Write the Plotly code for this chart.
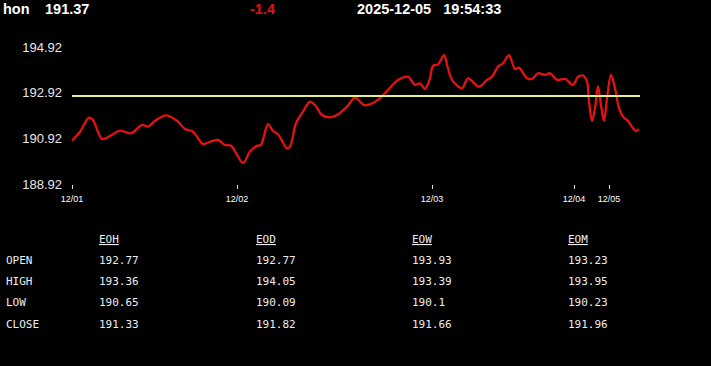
import plotly.graph_objects as go

# ---- data ----
symbol = "hon"
last_price = "191.37"
change = "-1.4"
timestamp = "2025-12-05   19:54:33"

# sample index (time position) and price
t_index = [0, 8, 17, 21, 30, 38, 48, 59, 70, 76, 83, 94, 105, 113, 121, 131, 138, 146,
           153, 159, 171, 178, 185, 189, 192, 196, 201, 206, 215, 218, 224, 231, 238, 243,
           250, 258, 265, 275, 283, 292, 298, 308, 316, 326, 336, 343, 348, 353, 358, 361,
           366, 372, 376, 380, 390, 396, 407, 415, 420, 426, 431, 437, 443, 447, 455, 460,
           466, 473, 478, 485, 493, 501, 506, 511, 515, 517, 520, 523, 526, 529, 532, 535,
           539, 543, 547, 551, 556, 561, 564, 567]
price = [190.82, 191.21, 191.83, 191.72, 190.89, 191.02, 191.26, 191.14, 191.51, 191.43,
         191.69, 191.93, 191.69, 191.33, 191.21, 190.67, 190.77, 190.85, 190.63, 190.60,
         189.84, 190.34, 190.59, 190.63, 191.02, 191.54, 191.24, 191.10, 190.48, 190.55,
         191.58, 192.09, 192.53, 192.38, 191.94, 191.84, 191.94, 192.31, 192.70, 192.38,
         192.41, 192.67, 193.04, 193.48, 193.62, 193.26, 193.33, 193.08, 193.55, 194.10,
         194.16, 194.56, 193.99, 193.48, 193.11, 193.55, 193.18, 193.48, 193.62, 194.06,
         194.21, 194.56, 193.96, 194.02, 193.55, 193.52, 193.77, 193.70, 193.77, 193.48,
         193.52, 193.26, 193.62, 193.67, 193.40, 192.53, 191.68, 192.24, 193.21, 192.38,
         191.68, 192.67, 193.70, 193.11, 192.24, 191.87, 191.68, 191.36, 191.24, 191.32]
ref_price = 192.77
x_end = 568

tick_pos = [0, 165, 360, 502, 537]
tick_labels = ["12/01", "12/02", "12/03", "12/04", "12/05"]
y_ticks = [188.92, 190.92, 192.92, 194.92]

col_headers = ["EOH", "EOD", "EOW", "EOM"]
row_labels = ["OPEN", "HIGH", "LOW", "CLOSE"]
table_vals = [
    ["192.77", "192.77", "193.93", "193.23"],
    ["193.36", "194.05", "193.39", "193.95"],
    ["190.65", "190.09", "190.1", "190.23"],
    ["191.33", "191.82", "191.66", "191.96"],
]

# ---- layout geometry (pixels) ----
W, H = 711, 366
L, R, T, B = 72, 71, 40, 182
pw, ph = W - L - R, H - T - B
y_bottom = 188.92
y_top = y_bottom + ph / 22.83


def px(x):
    return (x - L) / pw


def py(y):
    return (H - B - y) / ph


fig = go.Figure()
fig.add_trace(go.Scatter(x=t_index, y=price, mode="lines",
                         line=dict(color="#e41212", width=2.3, shape="spline", smoothing=0.9),
                         hoverinfo="skip"))
fig.add_trace(go.Scatter(x=[0, x_end], y=[ref_price, ref_price], mode="lines",
                         line=dict(color="#e4ee8c", width=2), hoverinfo="skip"))

ann = []
hfont = dict(family="Liberation Sans, Arial", size=14.5, color="white")
ann.append(dict(text="<b>" + symbol + "</b>", x=px(1), y=py(9.5), font=hfont))
ann.append(dict(text="<b>" + last_price + "</b>", x=px(43), y=py(9.5), font=hfont))
ann.append(dict(text="<b>" + change + "</b>", x=px(248), y=py(9.5),
                font=dict(family="Liberation Sans, Arial", size=14.5, color="#e41212")))
ann.append(dict(text="<b>" + timestamp.replace(" ", "&nbsp;") + "</b>", x=px(355), y=py(9.5), font=hfont))

tfont = dict(family="DejaVu Sans Mono, monospace", size=11, color="#eeeeee")
col_x = [97, 254, 410, 566]
row_y = [260.5, 281, 302.5, 324.5]
for cx, h in zip(col_x, col_headers):
    ann.append(dict(text="<u>" + h + "</u>", x=px(cx), y=py(239), font=tfont))
for ry, lab, vals in zip(row_y, row_labels, table_vals):
    ann.append(dict(text=lab, x=px(4), y=py(ry), font=tfont))
    for cx, v in zip(col_x, vals):
        ann.append(dict(text=v, x=px(cx), y=py(ry), font=tfont))

for a in ann:
    a.update(xref="paper", yref="paper", xanchor="left", yanchor="middle", showarrow=False)

fig.update_layout(
    width=W, height=H,
    margin=dict(l=L, r=R, t=T, b=B, pad=0),
    paper_bgcolor="black", plot_bgcolor="black",
    showlegend=False,
    annotations=ann,
    xaxis=dict(range=[0, x_end], tickvals=tick_pos, ticktext=tick_labels,
               showgrid=False, zeroline=False, showline=False,
               ticks="outside", ticklen=4, tickcolor="#dddddd", tickwidth=1,
               tickfont=dict(family="Liberation Sans, Arial", size=9, color="white"),
               ticklabelstandoff=2, fixedrange=True),
    yaxis=dict(range=[y_bottom, y_top], tickvals=y_ticks,
               ticktext=[f"{v:.2f}" for v in y_ticks],
               showgrid=False, zeroline=False, showline=False, ticks="",
               tickfont=dict(family="Liberation Sans, Arial", size=13, color="#e8e8e8"),
               ticklabelstandoff=9, fixedrange=True),
)

fig.write_html("out.html", config={"displayModeBar": False})
